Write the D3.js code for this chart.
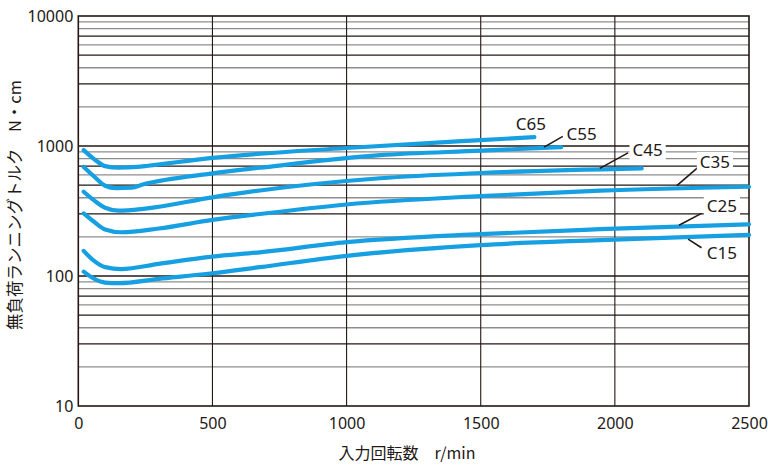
<!DOCTYPE html>
<html><head><meta charset="utf-8">
<script src="https://cdn.jsdelivr.net/npm/d3@7"></script>
<style>
html,body{margin:0;padding:0;background:#fff;}
svg{display:block;}
text{font-family:"Noto Sans","Noto Sans CJK JP",sans-serif;fill:#231815;}
</style></head>
<body>
<svg id="chart" width="768" height="465"></svg>
<script>
// ---- data ----
const xTicks = [0, 500, 1000, 1500, 2000, 2500];
const yTicks = [10, 100, 1000, 10000];
const seriesNames = ["C65", "C55", "C45", "C35", "C25", "C15"];
const rpmC65 = [20, 60, 100, 150, 220, 260, 500, 1000, 1500, 1700];
const valC65 = [930, 790, 700, 680, 690, 705, 810, 965, 1110, 1170];
const rpmC55 = [20, 60, 100, 140, 200, 240, 500, 677, 1125, 1500, 1800];
const valC55 = [690, 580, 495, 475, 478, 505, 615, 680, 850, 920, 980];
const rpmC45 = [20, 60, 100, 150, 250, 500, 677, 1125, 1500, 2100];
const valC45 = [445, 380, 335, 318, 330, 403, 455, 565, 620, 673];
const rpmC35 = [20, 60, 100, 160, 300, 500, 677, 1000, 1500, 1945, 2500];
const valC35 = [303, 260, 228, 217, 232, 270, 300, 355, 412, 453, 486];
const rpmC25 = [20, 60, 100, 160, 300, 500, 677, 1000, 1500, 1945, 2500];
const valC25 = [156, 130, 117, 113, 124, 141, 152, 182, 210, 229, 250];
const rpmC15 = [20, 60, 100, 150, 300, 500, 677, 1000, 1500, 1945, 2500];
const valC15 = [108, 95, 89, 88, 95, 105, 117, 143, 173, 189, 207];
// label anchors (rpm, value) and leader lines [rpm1, val1, rpm2, val2]
const labelPos = [[1687, 1330], [1876, 1117], [2122, 831], [2373, 678], [2399, 311], [2399, 134.5]];
const leaders = [null, [1736, 981, 1806, 1185], [1944, 673, 2049, 885], [2231, 495, 2310, 685], [2239, 246, 2323, 303], [2273, 192, 2323, 165]];
const xTitle = "入力回転数\u3000r/min";
const yTitle = "無負荷ランニングトルク\u3000N・cm";

// ---- layout ----
const L = 78.3, R = 749, T = 16, B = 406;
const x = d3.scaleLinear().domain([0, 2500]).range([L, R]);
const y = d3.scaleLog().domain([10, 10000]).range([B, T]);
const svg = d3.select("#chart");
const dark = "#231815", grey = "#8f8c8c", blue = "#16a0e2";

// horizontal grid
const gridVals = [];
[10, 100, 1000].forEach(d => { for (let k = 2; k <= 9; k++) gridVals.push(d * k); });
[100, 1000].forEach(v => gridVals.push(v));
svg.append("g").selectAll("line").data(gridVals).join("line")
  .attr("x1", L).attr("x2", R)
  .attr("y1", d => y(d)).attr("y2", d => y(d))
  .attr("stroke", d => {
    const m = Math.round(d / Math.pow(10, Math.floor(Math.log10(d) + 1e-9)));
    return (m === 1 || m === 3 || m === 5 || m === 7) ? dark : grey;
  })
  .attr("stroke-width", 1.3);
// vertical grid
svg.append("g").selectAll("line").data([500, 1000, 1500, 2000]).join("line")
  .attr("x1", d => x(d)).attr("x2", d => x(d)).attr("y1", T).attr("y2", B)
  .attr("stroke", dark).attr("stroke-width", 1.1);
// frame
svg.append("rect").attr("x", L).attr("y", T).attr("width", R - L).attr("height", B - T)
  .attr("fill", "none").attr("stroke", dark).attr("stroke-width", 1.6);

// axes labels via d3 axes
const xAxis = svg.append("g").attr("transform", `translate(0,${B})`)
  .call(d3.axisBottom(x).tickValues(xTicks).tickSize(0).tickPadding(12).tickFormat(d3.format("d")));
xAxis.select(".domain").remove();
xAxis.selectAll("text").attr("font-size", 16).style("font-family", '"Noto Sans",sans-serif').attr("fill", dark);
const yAxis = svg.append("g").attr("transform", `translate(${L},0)`)
  .call(d3.axisLeft(y).tickValues(yTicks).tickSize(0).tickPadding(5).tickFormat(d3.format("d")));
yAxis.select(".domain").remove();
yAxis.selectAll("text").attr("font-size", 16).style("font-family", '"Noto Sans",sans-serif').attr("fill", dark);

// titles
svg.append("text").attr("x", 407).attr("y", 459).attr("text-anchor", "middle")
  .attr("font-size", 16).style("font-family", '"Noto Sans CJK JP",sans-serif').text(xTitle);
svg.append("text").attr("transform", "translate(21,205) rotate(-90)").attr("text-anchor", "middle")
  .attr("font-size", 16.5).style("font-family", '"Noto Sans CJK JP",sans-serif').text(yTitle);

// label backgrounds
const lblG = svg.append("g");
const lbls = lblG.selectAll("text").data(seriesNames).join("text")
  .attr("x", (d, i) => x(labelPos[i][0])).attr("y", (d, i) => y(labelPos[i][1]))
  .attr("text-anchor", "middle").attr("font-size", 17).text(d => d);
lbls.each(function () {
  const b = this.getBBox();
  lblG.insert("rect", "text").attr("x", b.x - 3).attr("y", b.y + 2).attr("width", b.width + 6).attr("height", b.height - 2).attr("fill", "#fff");
});

// curves
const series = [[rpmC65, valC65], [rpmC55, valC55], [rpmC45, valC45], [rpmC35, valC35], [rpmC25, valC25], [rpmC15, valC15]];
const line = d3.line().x(d => x(d[0])).y(d => y(d[1])).curve(d3.curveMonotoneX);
svg.append("g").selectAll("path").data(series).join("path")
  .attr("d", s => line(s[0].map((r, i) => [r, s[1][i]])))
  .attr("fill", "none").attr("stroke", blue).attr("stroke-width", 4.2).attr("stroke-linecap", "round");

// leader lines
svg.append("g").selectAll("line").data(leaders.filter(d => d)).join("line")
  .attr("x1", d => x(d[0])).attr("y1", d => y(d[1])).attr("x2", d => x(d[2])).attr("y2", d => y(d[3]))
  .attr("stroke", dark).attr("stroke-width", 1.6);

svg.node().appendChild(lblG.node());
</script>
</body></html>
